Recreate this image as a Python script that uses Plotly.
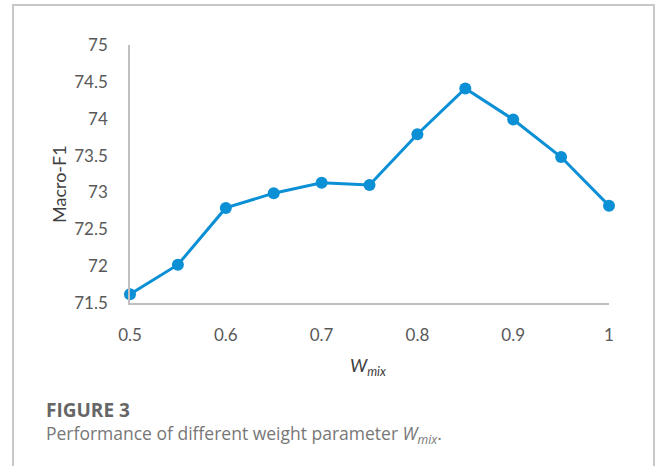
import plotly.graph_objects as go

w_mix = [0.5, 0.55, 0.6, 0.65, 0.7, 0.75, 0.8, 0.85, 0.9, 0.95, 1.0]
macro_f1 = [71.62, 72.02, 72.79, 72.99, 73.13, 73.10, 73.79, 74.41, 73.99, 73.48, 72.82]
y_ticks = [71.5, 72, 72.5, 73, 73.5, 74, 74.5, 75]
y_tick_labels = ["71.5", "72", "72.5", "73", "73.5", "74", "74.5", "75"]
x_ticks = [0.5, 0.6, 0.7, 0.8, 0.9, 1.0]
x_tick_labels = ["0.5", "0.6", "0.7", "0.8", "0.9", "1"]

BLUE = "#0B8FD5"
FONT = "Lato"
L, R, T, B = 130, 47, 45, 163
W, H = 656, 466
pw, ph = W - L - R, H - T - B

def px_x(px):
    return (px - L) / pw

def px_y(py):
    return (H - B - py) / ph

fig = go.Figure()
fig.add_trace(go.Scatter(
    x=w_mix, y=macro_f1, mode="lines+markers",
    line=dict(color=BLUE, width=3),
    marker=dict(color=BLUE, size=12),
    cliponaxis=False, showlegend=False,
))

fig.update_layout(
    width=W, height=H,
    margin=dict(l=L, r=R, t=T, b=B),
    paper_bgcolor="white", plot_bgcolor="white",
    font=dict(family=FONT, color="#595959", size=17),
    xaxis=dict(range=[0.5, 1.0], tickvals=x_ticks, ticktext=x_tick_labels,
               showgrid=False, zeroline=False, showline=True, linecolor="#BFBFBF",
               linewidth=1.5, ticks="", ticklabelstandoff=16,
               tickfont=dict(family=FONT, size=17, color="#595959")),
    yaxis=dict(range=[71.5, 75], tickvals=y_ticks, ticktext=y_tick_labels,
               showgrid=False, zeroline=False, showline=True, linecolor="#BFBFBF",
               linewidth=1.5, ticks="", ticklabelstandoff=17,
               tickfont=dict(family=FONT, size=17, color="#595959")),
)

# Frame border (top, left, right) as one open path
frame_path = "M {x0},{y0} L {x0},{y1} L {x2},{y1} L {x2},{y0}".format(
    x0=px_x(13), y0=px_y(470), y1=px_y(5), x2=px_x(654))
fig.add_shape(type="path", xref="paper", yref="paper", path=frame_path,
              line=dict(color="#C8C8C8", width=2), layer="above")

# Axis titles
fig.add_annotation(text="Macro-F1", xref="paper", yref="paper",
                   x=px_x(59), y=px_y(184), showarrow=False, textangle=-90,
                   font=dict(family=FONT, size=18, color="#404040"),
                   xanchor="center", yanchor="middle")
fig.add_annotation(text="<i>W<sub>mix</sub></i>", xref="paper", yref="paper",
                   x=px_x(368), y=px_y(366), showarrow=False,
                   font=dict(family=FONT, size=18, color="#404040"),
                   xanchor="center", yanchor="middle")

# Caption
fig.add_annotation(text="<b>FIGURE 3</b>", xref="paper", yref="paper",
                   x=px_x(44), y=px_y(410), showarrow=False,
                   font=dict(family="Open Sans", size=19, color="#666666"),
                   xanchor="left", yanchor="middle")
fig.add_annotation(text="Performance of different weight parameter <i>W<sub>mix</sub></i>.",
                   xref="paper", yref="paper",
                   x=px_x(44), y=px_y(434), showarrow=False,
                   font=dict(family="Open Sans", size=17.5, color="#777777"),
                   xanchor="left", yanchor="middle")

fig.write_html("out.html", config={"displayModeBar": False},
               post_script="document.body.style.margin='0';")
